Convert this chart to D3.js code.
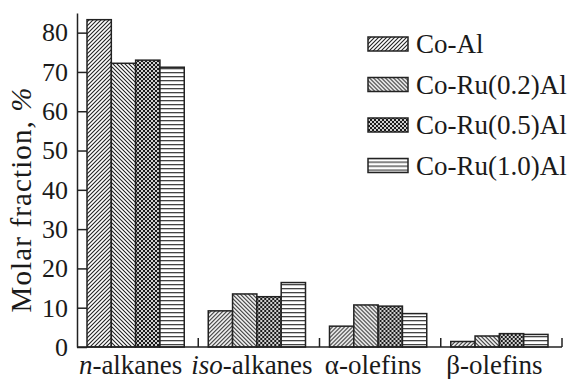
<!DOCTYPE html>
<html>
<head>
<meta charset="utf-8">
<script src="https://cdn.jsdelivr.net/npm/d3@7"></script>
<style>
  body { margin: 0; background: #fff; }
  text { font-family: "Liberation Serif", "Times New Roman", serif; fill: #1a1a1a; }
</style>
</head>
<body>
<div id="chart"></div>
<script>
// categories and series
var categories = ["n-alkanes", "iso-alkanes", "α-olefins", "β-olefins"];
var series = ["Co-Al", "Co-Ru(0.2)Al", "Co-Ru(0.5)Al", "Co-Ru(1.0)Al"];

// values, one array per catalyst (same order as categories)
var coAl = [83.3, 9.2, 5.3, 1.4];
var coRu02 = [72.2, 13.5, 10.7, 2.8];
var coRu05 = [73.0, 12.8, 10.4, 3.4];
var coRu10 = [71.2, 16.4, 8.5, 3.2];

var yTicks = [0, 10, 20, 30, 40, 50, 60, 70, 80];

var values = [coAl, coRu02, coRu05, coRu10];

var width = 573, height = 379;
var plotLeft = 77, plotRight = 562, plotTop = 13, plotBottom = 347;

var svg = d3.select("#chart").append("svg")
    .attr("width", width)
    .attr("height", height);

//patterns for the four series
var defs = svg.append("defs");

var p0 = defs.append("pattern").attr("id", "pat0")
    .attr("patternUnits", "userSpaceOnUse").attr("width", 4).attr("height", 4);
p0.append("rect").attr("width", 4).attr("height", 4).attr("fill", "#fff");
p0.append("path").attr("d", "M0,4 L4,0 M-1,1 L1,-1 M3,5 L5,3")
    .attr("stroke", "#222").attr("stroke-width", 1.1);

var p1 = defs.append("pattern").attr("id", "pat1")
    .attr("patternUnits", "userSpaceOnUse").attr("width", 4).attr("height", 4);
p1.append("rect").attr("width", 4).attr("height", 4).attr("fill", "#fff");
p1.append("path").attr("d", "M0,0 L4,4 M-1,3 L1,5 M3,-1 L5,1")
    .attr("stroke", "#222").attr("stroke-width", 1.1);

var p2 = defs.append("pattern").attr("id", "pat2")
    .attr("patternUnits", "userSpaceOnUse").attr("width", 4).attr("height", 4);
p2.append("rect").attr("width", 4).attr("height", 4).attr("fill", "#cfcfcf");
p2.append("rect").attr("width", 2).attr("height", 2).attr("fill", "#1a1a1a");
p2.append("rect").attr("x", 2).attr("y", 2).attr("width", 2).attr("height", 2).attr("fill", "#1a1a1a");

var p3 = defs.append("pattern").attr("id", "pat3")
    .attr("patternUnits", "userSpaceOnUse").attr("width", 4).attr("height", 4);
p3.append("rect").attr("width", 4).attr("height", 4).attr("fill", "#fff");
p3.append("rect").attr("y", 0).attr("width", 4).attr("height", 1.3).attr("fill", "#444");

// scales
var x0 = d3.scaleBand().domain(categories).range([plotLeft, plotRight]).padding(0);
var x1 = d3.scaleBand().domain(series).range([10, x0.bandwidth() - 14]).padding(0);
var y = d3.scaleLinear().domain([0, 85]).range([plotBottom, plotTop]);

// bars
var groups = svg.selectAll(".grp")
    .data(categories)
    .enter().append("g")
    .attr("class", "grp")
    .attr("transform", function (d) { return "translate(" + x0(d) + ",0)"; });

groups.selectAll("rect")
    .data(function (d, i) {
        return series.map(function (s, j) { return {s: s, j: j, v: values[j][i]}; });
    })
    .enter().append("rect")
    .attr("x", function (d) { return x1(d.s); })
    .attr("y", function (d) { return y(d.v); })
    .attr("width", x1.bandwidth())
    .attr("height", function (d) { return plotBottom - y(d.v); })
    .attr("fill", function (d) { return "url(#pat" + d.j + ")"; })
    .attr("stroke", "#222")
    .attr("stroke-width", 1.5);

// y axis (ticks inside)
var yAxis = svg.append("g")
    .attr("transform", "translate(" + plotLeft + ",0)")
    .call(d3.axisRight(y).tickValues(yTicks).tickSize(10).tickSizeOuter(0).tickFormat(""));
yAxis.select(".domain").attr("stroke", "#222").attr("stroke-width", 1.5);
yAxis.selectAll(".tick line").attr("stroke", "#222").attr("stroke-width", 1.5);

svg.selectAll(".ylab")
    .data(yTicks)
    .enter().append("text")
    .attr("class", "ylab")
    .attr("x", plotLeft - 9)
    .attr("y", function (d) { return y(d); })
    .attr("dy", "0.34em")
    .attr("text-anchor", "end")
    .attr("font-size", 26)
    .text(function (d) { return d; });

// x axis, ticks at category edges pointing up
var xAxis = svg.append("g");
xAxis.append("line")
    .attr("x1", plotLeft).attr("x2", plotRight)
    .attr("y1", plotBottom).attr("y2", plotBottom)
    .attr("stroke", "#222").attr("stroke-width", 1.5);
xAxis.selectAll(".xt")
    .data(categories)
    .enter().append("line")
    .attr("class", "xt")
    .attr("x1", function (d) { return x0(d) + x0.bandwidth(); })
    .attr("x2", function (d) { return x0(d) + x0.bandwidth(); })
    .attr("y1", plotBottom).attr("y2", plotBottom - 9)
    .attr("stroke", "#222").attr("stroke-width", 1.5);

// x labels with italic prefixes
var xl = svg.selectAll(".xlab")
    .data(categories)
    .enter().append("text")
    .attr("class", "xlab")
    .attr("x", function (d) { return x0(d) + x0.bandwidth() / 2 - 7; })
    .attr("y", 374)
    .attr("text-anchor", "middle")
    .attr("font-size", 27);
xl.each(function (d) {
    var t = d3.select(this);
    var parts = d.split("-");
    var ital = (parts[0] === "n" || parts[0] === "iso");
    t.append("tspan").attr("font-style", ital ? "italic" : "normal").text(parts[0]);
    t.append("tspan").text("-" + parts[1]);
});

// y title
svg.append("text")
    .attr("transform", "translate(31,200) rotate(-90)")
    .attr("text-anchor", "middle")
    .attr("font-size", 29)
    .attr("textLength", 225)
    .attr("lengthAdjust", "spacing")
    .html("Molar fraction, <tspan font-style='italic'>%</tspan>");

// legend
var legend = svg.selectAll(".leg")
    .data(series)
    .enter().append("g")
    .attr("class", "leg")
    .attr("transform", function (d, i) { return "translate(368," + (44 + i * 40.5) + ")"; });

legend.append("rect")
    .attr("x", 0).attr("y", -7)
    .attr("width", 40).attr("height", 14)
    .attr("fill", function (d, i) { return "url(#pat" + i + ")"; })
    .attr("stroke", "#222").attr("stroke-width", 1.5);

legend.append("text")
    .attr("x", 48)
    .attr("y", 0)
    .attr("dy", "0.34em")
    .attr("font-size", 27)
    .text(function (d) { return d; });
</script>
</body>
</html>
